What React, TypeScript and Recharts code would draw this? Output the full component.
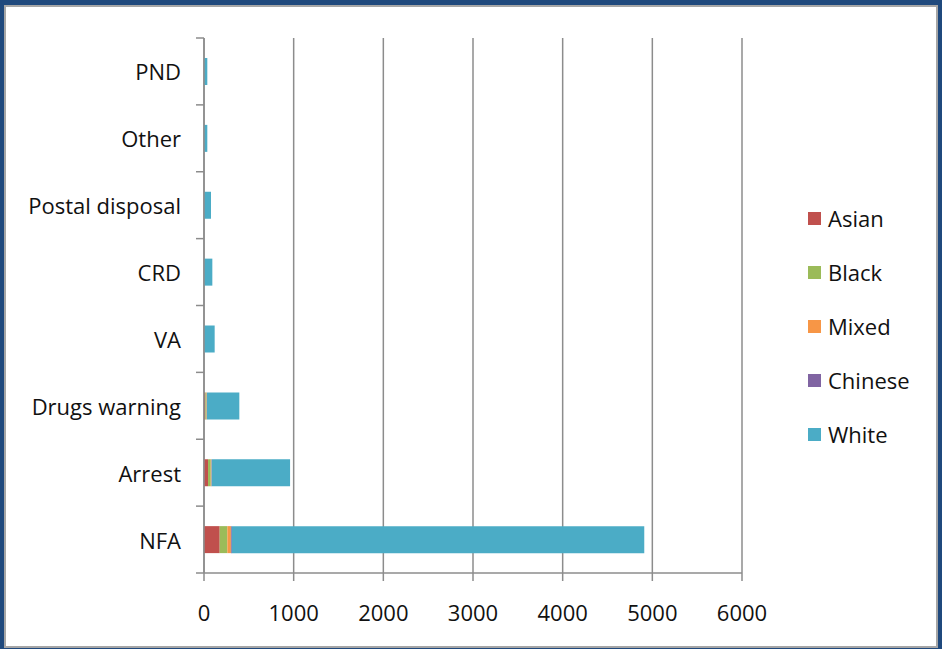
import React from 'react';
import { BarChart, Bar, XAxis, YAxis, CartesianGrid, Legend } from 'recharts';

const categories = ['PND', 'Other', 'Postal disposal', 'CRD', 'VA', 'Drugs warning', 'Arrest', 'NFA'];
const asian = [0, 0, 0, 0, 0, 15, 45, 175];
const black = [0, 0, 0, 0, 0, 12, 30, 85];
const mixed = [0, 0, 0, 0, 0, 4, 8, 40];
const chinese = [0, 0, 0, 0, 0, 2, 3, 10];
const white = [37, 37, 78, 93, 119, 361, 874, 4600];
const xTicks = [0, 1000, 2000, 3000, 4000, 5000, 6000];

const seriesNames = ['Asian', 'Black', 'Mixed', 'Chinese', 'White'];
const seriesColors = ['#C0504D', '#9BBB59', '#F79646', '#8064A2', '#4BACC6'];
const seriesValues = [asian, black, mixed, chinese, white];

const data = categories.map((c, i) => {
  const row: any = { name: c };
  seriesNames.forEach((s, k) => {
    row[s] = seriesValues[k][i];
  });
  return row;
});

const W = 942;
const H = 649;
const MARGIN = { top: 38, right: 200, bottom: 26, left: 14 };
const X_AXIS_H = 50;
const Y_AXIS_W = 190;
const PLOT_H = H - MARGIN.top - MARGIN.bottom - X_AXIS_H;
const BAND = PLOT_H / categories.length;
const FONT = '"Open Sans", sans-serif';
const AXIS_COLOR = '#8C8C8C';

const YTick = (props: any) => {
  const { x, y, payload, index } = props;
  const top = y - BAND / 2;
  const bottom = y + BAND / 2;
  return (
    <g>
      <line x1={x - 8} x2={x} y1={top} y2={top} stroke={AXIS_COLOR} strokeWidth={1.5} />
      {index === categories.length - 1 && (
        <line x1={x - 8} x2={x} y1={bottom} y2={bottom} stroke={AXIS_COLOR} strokeWidth={1.5} />
      )}
      <text
        x={x - 23}
        y={y}
        textAnchor="end"
        dominantBaseline="central"
        fontSize={22}
        fontFamily={FONT}
        fill="#111"
      >
        {payload.value}
      </text>
    </g>
  );
};

const LegendContent = () => {
  return (
    <div style={{ fontFamily: FONT, fontSize: 22, color: '#111' }}>
      {seriesNames.map((name, k) => (
        <div key={name} style={{ height: 54, display: 'flex', alignItems: 'center' }}>
          <span
            style={{
              display: 'inline-block',
              width: 13,
              height: 13,
              background: seriesColors[k],
              marginRight: 7,
            }}
          />
          <span>{name}</span>
        </div>
      ))}
    </div>
  );
};

export default function App() {
  return (
    <div style={{ position: 'absolute', left: 0, top: 0, width: W, height: H, background: '#1F497D' }}>
      <div
        style={{
          position: 'absolute',
          left: 4,
          top: 5,
          width: 934,
          height: 643,
          background: '#fff',
          border: '2px solid #A6A6A6',
          boxSizing: 'border-box',
        }}
      />
      <div style={{ position: 'absolute', left: 0, top: 0 }}>
        <BarChart width={W} height={H} data={data} layout="vertical" margin={MARGIN} barSize={27}>
          <CartesianGrid horizontal={false} vertical={true} stroke={AXIS_COLOR} strokeWidth={1.5} />
          <XAxis
            type="number"
            domain={[0, 6000]}
            ticks={xTicks}
            interval={0}
            height={X_AXIS_H}
            axisLine={{ stroke: AXIS_COLOR, strokeWidth: 1.5 }}
            tickLine={{ stroke: AXIS_COLOR, strokeWidth: 1.5 }}
            tickSize={8}
            tickMargin={24}
            tick={{ fontSize: 22, fontFamily: FONT, fill: '#111' }}
          />
          <YAxis
            type="category"
            dataKey="name"
            width={Y_AXIS_W}
            interval={0}
            axisLine={{ stroke: AXIS_COLOR, strokeWidth: 1.5 }}
            tickLine={false}
            tickSize={0}
            tickMargin={0}
            tick={<YTick />}
          />
          <Legend
            layout="horizontal"
            align="center"
            verticalAlign="middle"
            content={<LegendContent />}
            wrapperStyle={{ left: 808, top: 191, width: 130, right: 'auto', bottom: 'auto' }}
          />
          {seriesNames.map((s, k) => (
            <Bar
              key={s}
              dataKey={s}
              stackId="a"
              fill={seriesColors[k]}
              isAnimationActive={false}
            />
          ))}
        </BarChart>
      </div>
    </div>
  );
}
